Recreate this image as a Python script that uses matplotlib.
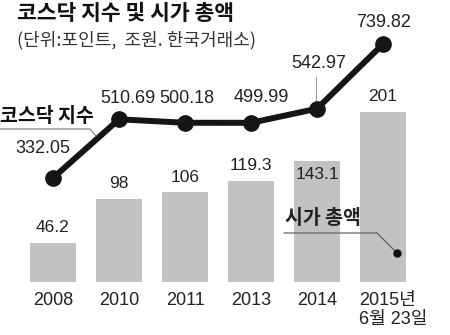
import matplotlib
matplotlib.use("Agg")
import matplotlib.pyplot as plt
from matplotlib.lines import Line2D

# data
years = ["2008", "2010", "2011", "2013", "2014", "2015년\n6월 23일"]
kosdaq_index = [332.05, 510.69, 500.18, 499.99, 542.97, 739.82]
market_cap = [46.2, 98, 106, 119.3, 143.1, 201]

W, H = 450, 335
NUM_FONT = ["Liberation Sans", "Noto Sans CJK KR"]
KR_FONT = ["Noto Sans CJK KR", "DejaVu Sans"]
BAR_COLOR = "#c1c2c4"
LINE_COLOR = "#151515"
TXT = "#222222"


def px(x, y):
    """pixel (from top-left) -> figure fraction"""
    return x / W, 1 - y / H


fig = plt.figure(figsize=(W / 100, H / 100), dpi=100)
ax = fig.add_axes([0, 0, 1, 1])
ax.axis("off")
ax.set_xlim(-0.803, 6.015)
ax.set_ylim(-62.65, 333.3)

xs = list(range(len(years)))
ax.bar(xs, market_cap, width=0.71, color=BAR_COLOR, zorder=1)

# bar labels (last-but-one sits inside its bar)
for i, v in enumerate(market_cap):
    dy = -9.5 if i == 4 else 11
    ax.annotate(f"{v:g}", (i, v), xytext=(0, dy), textcoords="offset points",
                ha="center", va="center", fontsize=12.5, family=NUM_FONT,
                color=TXT)

# year labels under bars
for i, lab in enumerate(years):
    if "\n" in lab:
        ax.annotate(lab, (i, 0), xytext=(-17.5, -7), textcoords="offset points",
                    ha="left", va="top", fontsize=13, family=NUM_FONT,
                    color=TXT, linespacing=1.2)
    else:
        ax.annotate(lab, (i, 0), xytext=(0, -13), textcoords="offset points",
                    ha="center", va="center", fontsize=13, family=NUM_FONT,
                    color=TXT)

# index line on its own scale
ax2 = ax.twinx()
ax2.axis("off")
ax2.set_ylim(-145.7, 873.8)
ax2.plot(xs, kosdaq_index, color=LINE_COLOR, lw=4.3, marker="o",
         markersize=11, solid_capstyle="round", zorder=3)

# label offsets in px (dx, dy up)
offs = [(-10, 30), (9, 21), (2, 24), (10, 25), (2, 45), (1, 22)]
for i, v in enumerate(kosdaq_index):
    dx, dy = offs[i]
    ax2.annotate(f"{v:.2f}", (i, v), xytext=(dx * 0.72, dy * 0.72),
                 textcoords="offset points", ha="center", va="center",
                 fontsize=13, family=NUM_FONT, color=TXT)

# leader for 542.97
fig.add_artist(Line2D(*zip(px(316, 77), px(316, 100)), color="#999999", lw=0.8))

# title
fig.text(*px(17, 14), "코스닥 지수 및 시가 총액", ha="left", va="center",
         fontsize=15.5, fontweight="bold", family=KR_FONT, color="#111111")
fig.text(*px(17, 40), "(단위:포인트,  조원. 한국거래소)", ha="left", va="center",
         fontsize=13, family=KR_FONT, color="#333333")

# series callouts
fig.text(*px(0, 117), "코스닥 지수", ha="left", va="center", fontsize=14,
         fontweight="bold", family=KR_FONT, color="#111111")
p = [px(0, 129), px(90, 129), px(96, 136)]
fig.add_artist(Line2D([q[0] for q in p], [q[1] for q in p], color="#777777", lw=0.8))

fig.text(*px(285, 218), "시가 총액", ha="left", va="center", fontsize=14,
         fontweight="bold", family=KR_FONT, color=TXT)
p = [px(284, 233), px(377, 233), px(397, 253)]
fig.add_artist(Line2D([q[0] for q in p], [q[1] for q in p], color="#555555", lw=0.8))
fig.add_artist(Line2D([px(397, 253)[0]], [px(397, 253)[1]], marker="o",
                      markersize=5, color="#111111", lw=0))

fig.savefig("out.png", dpi=100)
